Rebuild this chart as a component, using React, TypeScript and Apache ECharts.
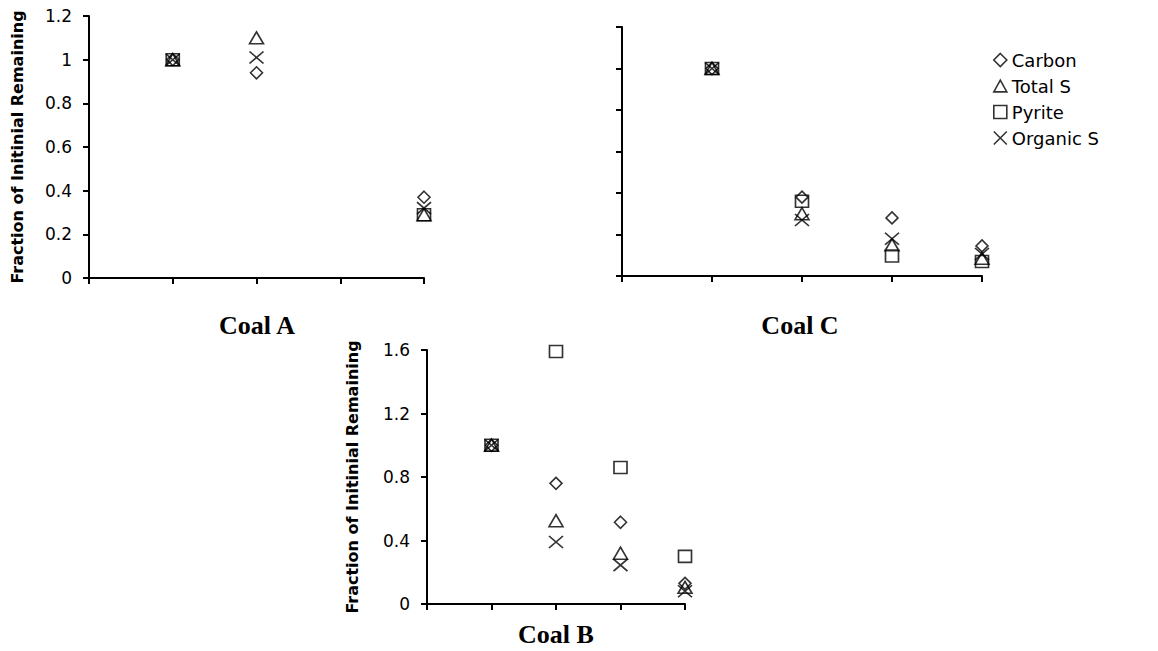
import React, { useEffect, useRef } from "react";
import * as echarts from "echarts";

const seriesNames = ["Carbon", "Total S", "Pyrite", "Organic S"];

// Coal A
const coalAX = [1, 2, 4];
const coalACarbon = [1.0, 0.94, 0.37];
const coalATotalS = [1.0, 1.1, 0.29];
const coalAPyrite = [1.0, null, 0.29];
const coalAOrganicS = [1.0, 1.01, 0.32];

// Coal C
const coalCX = [1, 2, 3, 4];
const coalCCarbon = [1.0, 0.38, 0.28, 0.145];
const coalCTotalS = [1.0, 0.3, 0.15, 0.085];
const coalCPyrite = [1.0, 0.36, 0.096, 0.07];
const coalCOrganicS = [1.0, 0.27, 0.18, 0.106];

// Coal B
const coalBX = [1, 2, 3, 4];
const coalBCarbon = [1.0, 0.76, 0.515, 0.13];
const coalBTotalS = [1.0, 0.525, 0.32, 0.105];
const coalBPyrite = [1.0, 1.59, 0.86, 0.3];
const coalBOrganicS = [1.0, 0.39, 0.245, 0.08];

const yAxisTitle = "Fraction of Initinial Remaining";

const symbols: Record<string, string> = {
  Carbon: "path://M5,0L10,5L5,10L0,5Z",
  "Total S": "path://M5,0L10,9L0,9Z",
  Pyrite: "path://M0,0L10,0L10,10L0,10Z",
  "Organic S": "path://M0,0L10,10M10,0L0,10",
};
const symbolSizes: Record<string, number[]> = {
  Carbon: [12, 12],
  "Total S": [14, 12],
  Pyrite: [13, 12],
  "Organic S": [14, 12],
};

function pairs(xs: number[], ys: (number | null)[]) {
  return xs
    .map((x, i) => [x, ys[i]])
    .filter((p) => p[1] !== null);
}

export default function App() {
  const ref = useRef<HTMLDivElement>(null);
  useEffect(() => {
    if (!ref.current) return;
    const chart = echarts.init(ref.current, null, { renderer: "svg" });
    const sans = "DejaVu Sans, Arial, sans-serif";
    const axisLine = { lineStyle: { color: "#000", width: 2 } };
    const axisTick = { inside: false, length: 6, lineStyle: { color: "#000", width: 2 } };
    const labelStyle = { color: "#000", fontSize: 17, fontFamily: sans, margin: 17 };
    const nameStyle = { fontSize: 16, fontWeight: "bold", color: "#000", fontFamily: sans };

    const grids = [
      { left: 89, top: 16, width: 335, height: 262 },
      { left: 622, top: 27, width: 360, height: 249 },
      { left: 427, top: 350, width: 258, height: 254 },
    ];
    const xAxes = grids.map((_, i) => ({
      type: "value",
      gridIndex: i,
      min: 0,
      max: 4,
      interval: 1,
      axisLine,
      axisTick,
      axisLabel: { show: false },
      splitLine: { show: false },
    }));
    const yAxes = [
      {
        type: "value", gridIndex: 0, min: 0, max: 1.2, interval: 0.2,
        axisLine: { show: true, ...axisLine }, axisTick: { show: true, ...axisTick },
        axisLabel: { ...labelStyle }, splitLine: { show: false },
        name: yAxisTitle, nameLocation: "middle", nameGap: 64, nameRotate: 90,
        nameTextStyle: nameStyle,
      },
      {
        type: "value", gridIndex: 1, min: 0, max: 1.2, interval: 0.2,
        axisLine: { show: true, ...axisLine }, axisTick: { show: true, ...axisTick },
        axisLabel: { show: false }, splitLine: { show: false },
      },
      {
        type: "value", gridIndex: 2, min: 0, max: 1.6, interval: 0.4,
        axisLine: { show: true, ...axisLine }, axisTick: { show: true, ...axisTick },
        axisLabel: { ...labelStyle }, splitLine: { show: false },
        name: yAxisTitle, nameLocation: "middle", nameGap: 67, nameRotate: 90,
        nameTextStyle: nameStyle,
      },
    ];

    const dataSets: [number, number[], (number | null)[][]][] = [
      [0, coalAX, [coalACarbon, coalATotalS, coalAPyrite, coalAOrganicS]],
      [1, coalCX, [coalCCarbon, coalCTotalS, coalCPyrite, coalCOrganicS]],
      [2, coalBX, [coalBCarbon, coalBTotalS, coalBPyrite, coalBOrganicS]],
    ];
    const series: any[] = [];
    dataSets.forEach(([gi, xs, vals]) => {
      vals.forEach((ys, si) => {
        const name = seriesNames[si];
        series.push({
          type: "scatter",
          name,
          xAxisIndex: gi,
          yAxisIndex: gi,
          symbol: symbols[name],
          symbolSize: symbolSizes[name],
          itemStyle: { color: "rgba(0,0,0,0)", borderColor: "#000", borderWidth: 1.6 },
          data: pairs(xs, ys),
        });
      });
    });

    const titleStyle = { fontSize: 26, fontWeight: "bold", fontFamily: "Liberation Serif, Times New Roman, serif", fill: "#000" };
    chart.setOption({
      animation: false,
      grid: grids,
      xAxis: xAxes,
      yAxis: yAxes,
      legend: {
        orient: "vertical",
        left: 988,
        top: 46,
        itemGap: 8,
        itemWidth: 13,
        itemHeight: 13,
        selectedMode: false,
        textStyle: { fontSize: 18, lineHeight: 18, color: "#000", fontFamily: sans },
        data: seriesNames.map((n) => ({
          name: n,
          icon: symbols[n],
          itemStyle: { color: "rgba(0,0,0,0)", borderColor: "#000", borderWidth: 1.6 },
        })),
      },
      graphic: [
        { type: "text", x: 257, y: 325, style: { text: "Coal A", textAlign: "center", textVerticalAlign: "middle", ...titleStyle } },
        { type: "text", x: 800, y: 325, style: { text: "Coal C", textAlign: "center", textVerticalAlign: "middle", ...titleStyle } },
        { type: "text", x: 556, y: 634, style: { text: "Coal B", textAlign: "center", textVerticalAlign: "middle", ...titleStyle } },
      ],
      series,
    });
    return () => chart.dispose();
  }, []);
  return <div ref={ref} style={{ width: 1158, height: 651, position: "absolute", left: 0, top: 0 }} />;
}
